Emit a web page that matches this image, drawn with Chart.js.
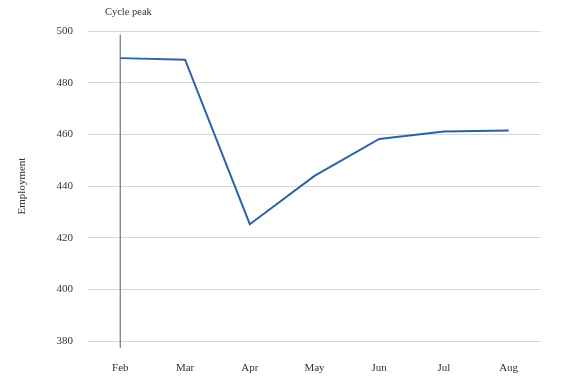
<!DOCTYPE html>
<html>
<head>
<meta charset="utf-8">
<script src="https://cdn.jsdelivr.net/npm/chart.js@4/dist/chart.umd.min.js"></script>
<style>
html,body{margin:0;padding:0;background:#fff;}
#wrap{width:570px;height:381px;position:relative;}
</style>
</head>
<body>
<div id="wrap"><canvas id="c" width="570" height="381"></canvas></div>
<script>
const months = ['Feb','Mar','Apr','May','Jun','Jul','Aug'];
const employment = [489.5, 488.9, 425.2, 443.9, 458.2, 461.1, 461.5];
const yTicks = [380, 400, 420, 440, 460, 480, 500];
const peakMonth = 'Feb';
const peakLineRange = [498.5, 377.3];
const peakLabel = 'Cycle peak';

const FONT = "'Liberation Serif', 'DejaVu Serif', serif";

const peakLabelPlugin = {
  id: 'peakLabel',
  afterDraw(chart) {
    const ctx = chart.ctx;
    const x = chart.scales.x.getPixelForValue(months.indexOf(peakMonth));
    ctx.save();
    ctx.font = "10.5px " + FONT;
    ctx.fillStyle = '#333';
    ctx.textAlign = 'center';
    ctx.textBaseline = 'middle';
    ctx.fillText(peakLabel, x + 8, 12);
    ctx.restore();
  }
};

new Chart(document.getElementById('c'), {
  type: 'line',
  data: {
    labels: months,
    datasets: [
      {
        data: employment,
        borderColor: '#2e62a6',
        borderWidth: 2,
        pointRadius: 0,
        tension: 0,
        fill: false
      },
      {
        data: peakLineRange.map(v => ({x: peakMonth, y: v})),
        borderColor: '#8a8a8a',
        borderWidth: 1,
        pointRadius: 0,
        clip: false,
        fill: false
      }
    ]
  },
  options: {
    responsive: false,
    animation: false,
    layout: { padding: { top: 31, right: 29, left: 16, bottom: 0 } },
    plugins: { legend: { display: false }, tooltip: { enabled: false } },
    scales: {
      x: {
        offset: true,
        grid: { display: false, drawTicks: false },
        border: { display: false },
        ticks: { color: '#333', font: { family: FONT, size: 11 }, padding: 21, maxRotation: 0 },
        afterFit(s) { s.height = 40; }
      },
      y: {
        min: 380,
        max: 500,
        afterBuildTicks(s) { s.ticks = yTicks.map(v => ({value: v})); },
        grid: { color: '#d9d9d9', drawTicks: false, lineWidth: 1 },
        border: { display: false },
        ticks: { color: '#333', font: { family: FONT, size: 11 }, padding: 15 },
        title: { display: true, text: 'Employment', color: '#333', font: { family: FONT, size: 11 }, padding: 0 },
        afterFit(s) { s.width = 72; }
      }
    }
  },
  plugins: [peakLabelPlugin]
});
</script>
</body>
</html>
